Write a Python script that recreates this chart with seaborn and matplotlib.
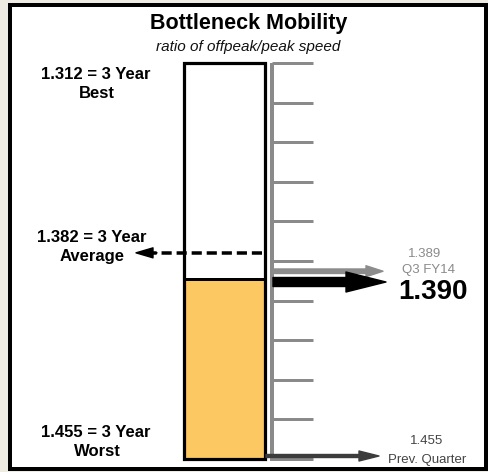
import matplotlib
matplotlib.use("Agg")
import matplotlib.pyplot as plt
import matplotlib.patches as mpatches
import matplotlib.transforms as mtrans
import numpy as np
import seaborn as sns

# ---- data ----
best_3yr = 1.312
avg_3yr = 1.382
worst_3yr = 1.455
current_value = 1.390
current_label = "Q3 FY14"
prev_highlight = 1.389
prev_quarter = 1.455
n_ticks = 11

title = "Bottleneck Mobility"
subtitle = "ratio of offpeak/peak speed"

sns.set_style("white")
plt.rcParams["font.family"] = ["Liberation Sans", "DejaVu Sans"]
plt.rcParams["text.color"] = "black"

W, H = 489, 472
fig = plt.figure(figsize=(W / 100, H / 100), dpi=100)
fig.patch.set_facecolor("#eeebe2")
ax = fig.add_axes([0, 0, 1, 1])
ax.set_facecolor("none")
ax.axis("off")

# layout mapping: pixel rows of the gauge ends
TOP_PX, BOT_PX = 63, 459


def py(p):
    return best_3yr + (p - TOP_PX) * (worst_3yr - best_3yr) / (BOT_PX - TOP_PX)


ax.set_xlim(0, W)
ax.set_ylim(py(H), py(0))

PT = 72 / 100  # points per pixel

# frame
frame = mpatches.Rectangle((10 / W, 3 / H), 476 / W, 464 / H, transform=ax.transAxes,
                           facecolor="white", edgecolor="black", lw=4 * PT, zorder=0,
                           clip_on=False)
ax.add_patch(frame)

# orange fill: current -> worst
ax.bar([224.5], [worst_3yr - current_value], bottom=[current_value], width=81,
       color="#fcc862", edgecolor="black", lw=3 * PT, zorder=2)
# gauge outline
ax.bar([224.5], [worst_3yr - best_3yr], bottom=[best_3yr], width=81,
       fill=False, edgecolor="black", lw=3.2 * PT, zorder=3)

# scale line and ticks
tick_vals = np.linspace(best_3yr, worst_3yr, n_ticks)
ax.vlines(271.5, best_3yr, worst_3yr + (worst_3yr - best_3yr) * 0.005,
          color="#8a8a8a", lw=4 * PT, zorder=3)
ax.hlines(tick_vals, 272, 313, color="#8a8a8a", lw=3 * PT, zorder=2)

# average dashed arrow
off_avg = mtrans.offset_copy(ax.transData, fig=fig, x=0, y=4 * PT, units="points")
ax.plot([262, 152], [avg_3yr, avg_3yr], color="black", lw=3.5 * PT,
        ls=(0, (2.9, 1.4)), zorder=4, transform=off_avg)
ax.annotate("", xy=(136, avg_3yr), xytext=(157, avg_3yr),
            xycoords=off_avg, textcoords=off_avg,
            arrowprops=dict(arrowstyle="simple,head_length=17,head_width=10,tail_width=0.1",
                            mutation_scale=PT, color="black", shrinkA=0, shrinkB=0), zorder=4)

# previous highlight (gray) arrow
off_up = mtrans.offset_copy(ax.transData, fig=fig, x=0, y=5 * PT, units="points")
ax.annotate("", xy=(383, prev_highlight), xytext=(273, prev_highlight),
            xycoords=off_up, textcoords=off_up,
            arrowprops=dict(arrowstyle="simple,head_length=17,head_width=11,tail_width=4.5",
                            mutation_scale=PT, color="#8c8c8c", shrinkA=0, shrinkB=0), zorder=4)
# current (black) arrow
off_dn = mtrans.offset_copy(ax.transData, fig=fig, x=0, y=-3 * PT, units="points")
ax.annotate("", xy=(386, current_value), xytext=(273, current_value),
            xycoords=off_dn, textcoords=off_dn,
            arrowprops=dict(arrowstyle="simple,head_length=40,head_width=20,tail_width=9",
                            mutation_scale=PT, color="black", shrinkA=0, shrinkB=0), zorder=5)
# previous quarter arrow
off_pq = mtrans.offset_copy(ax.transData, fig=fig, x=0, y=3 * PT, units="points")
ax.annotate("", xy=(379, prev_quarter), xytext=(266, prev_quarter),
            xycoords=off_pq, textcoords=off_pq,
            arrowprops=dict(arrowstyle="simple,head_length=20,head_width=10,tail_width=3",
                            mutation_scale=PT, color="#3c3c3c", shrinkA=0, shrinkB=0), zorder=4)

# texts
def txt(x, ypx, s, **kw):
    kw.setdefault("color", "black")
    ax.text(x, py(ypx), s, ha="center", va="baseline", **kw)

txt(249, 29, title, fontsize=15.5, fontweight="bold")
txt(248, 51, subtitle, fontsize=11, fontstyle="italic", color="#111111")

txt(96, 79, f"{best_3yr:.3f} = 3 Year", fontsize=12, fontweight="bold")
txt(97, 98, "Best", fontsize=12, fontweight="bold")
txt(92, 242, f"{avg_3yr:.3f} = 3 Year", fontsize=12, fontweight="bold")
txt(92, 261, "Average", fontsize=12, fontweight="bold")
txt(96, 437, f"{worst_3yr:.3f} = 3 Year", fontsize=12, fontweight="bold")
txt(97, 456, "Worst", fontsize=12, fontweight="bold")

txt(425, 257, f"{prev_highlight:.3f}", fontsize=9.5, color="#8a8a8a")
txt(428, 273, current_label, fontsize=9.5, color="#8a8a8a")
txt(433, 299, f"{current_value:.3f}", fontsize=20, fontweight="bold")
txt(427, 444, f"{prev_quarter:.3f}", fontsize=9.5, color="#444444")
txt(427, 463, "Prev. Quarter", fontsize=9.5, color="#444444")

fig.savefig("out.png", dpi=100, facecolor=fig.get_facecolor())
